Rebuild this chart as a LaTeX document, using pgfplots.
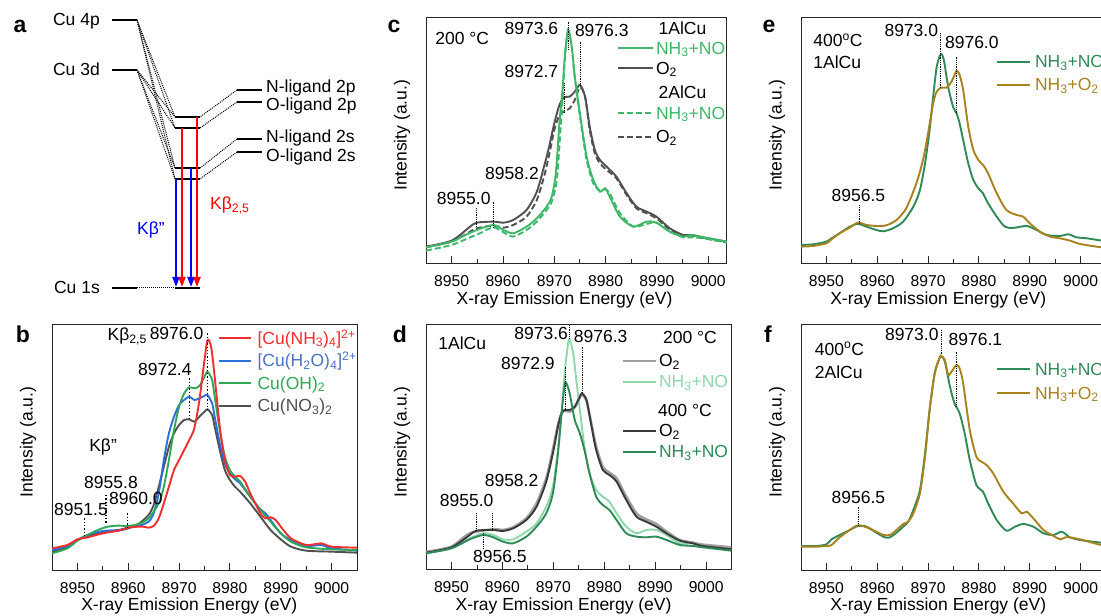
\documentclass[border=0pt]{standalone}
\usepackage{pgfplots}
\pgfplotsset{compat=1.18}
\usepackage{fontspec}
\setmainfont{Liberation Sans}
\usetikzlibrary{arrows.meta}
\newcommand\tf{\fontsize{15.7}{18}\selectfont}
\newcommand\lf{\fontsize{17.5}{20}\selectfont}
\newcommand\pf{\fontsize{23}{26}\selectfont\bfseries}
\definecolor{bred}{HTML}{F02E2E}
\definecolor{bblue}{HTML}{2A6FDB}
\definecolor{bbluet}{HTML}{4A72C0}
\definecolor{bgreen}{HTML}{2EA855}
\definecolor{dgray}{HTML}{505050}
\definecolor{cgreen}{HTML}{3CB868}
\definecolor{lgray}{HTML}{A0A0A0}
\definecolor{lgreen}{HTML}{8ED9AB}
\definecolor{kgray}{HTML}{3A3A3A}
\definecolor{kgreen}{HTML}{2F8A58}
\definecolor{gold}{HTML}{A8821C}

\tikzset{
  lab/.style={font=\lf, inner sep=0pt},
  pk/.style={densely dotted, line width=0.8pt, black},
  dsh/.style={dash pattern=on 6pt off 3pt},
  lvl/.style={line width=1.8pt},
  con/.style={densely dotted, line width=1pt},
  arr/.style={line width=2pt, -{Triangle[length=10pt,width=7pt]}},
  leg/.style={line width=1.9pt},
}
\pgfplotsset{
  xes/.style={
    scale only axis, anchor=south west,
    width=305pt, height=246pt,
    xmin=8945, xmax=9005, ymin=0, ymax=738,
    xtick={8950,8960,8970,8980,8990,9000}, minor x tick num=1,
    ytick=\empty, xtick pos=bottom, tick align=inside,
    major tick length=7pt, minor tick length=4pt,
    axis line style={line width=0.9pt, black!85},
    every tick/.style={line width=0.9pt, black!85},
    xticklabel style={font=\tf, yshift=-9pt},
    /pgf/number format/assume math mode=true,
    /pgf/number format/set thousands separator={},
    clip=false,
    every axis plot/.append style={line width=1.9pt, smooth, tension=0.45},
  },
}
\newcommand\axlabels{%
  \node[font=\lf, anchor=base] at ([yshift=-41pt]axis cs:8972,0) {X-ray Emission Energy (eV)};
  \node[font=\lf, rotate=90] at ([xshift=-24pt]rel axis cs:0,0.52) {Intensity (a.u.)};}

\begin{document}
\begin{tikzpicture}

% ---------- a: level scheme ----------
\begin{axis}[scale only axis, anchor=south west, at={(0pt,316pt)},
  width=370pt, height=300pt, xmin=0, xmax=370, ymin=0, ymax=300,
  hide axis, clip=false]
\draw[con] (137,280) -- (175,183);
\draw[con] (137,280) -- (175,172);
\draw[con] (137,280) -- (175,132);
\draw[con] (137,280) -- (175,121);
\draw[con] (137,230) -- (175,183);
\draw[con] (137,230) -- (175,172);
\draw[con] (137,230) -- (175,132);
\draw[con] (137,230) -- (175,121);
\draw[con] (237,210) -- (200,183);
\draw[con] (237,198) -- (200,172);
\draw[con] (237,161) -- (200,132);
\draw[con] (237,148) -- (200,121);
\draw[con] (137,12) -- (175,12);
\draw[lvl] (112,280) -- (137,280);
\draw[lvl] (112,230) -- (137,230);
\draw[lvl] (112,12) -- (137,12);
\draw[lvl] (175,183) -- (200,183);
\draw[lvl] (175,172) -- (200,172);
\draw[lvl] (175,132) -- (200,132);
\draw[lvl] (175,121) -- (200,121);
\draw[lvl] (175,12) -- (200,12);
\draw[lvl] (237,210) -- (262,210);
\draw[lvl] (237,198) -- (262,198);
\draw[lvl] (237,161) -- (262,161);
\draw[lvl] (237,148) -- (262,148);
\draw[arr, blue] (176,121) -- (176,13);
\draw[arr, red] (182,172) -- (182,13);
\draw[arr, blue] (191,132) -- (191,13);
\draw[arr, red] (197,183) -- (197,13);
\node[lab, anchor=base east] at (100,274) {Cu 4p};
\node[lab, anchor=base east] at (100,224) {Cu 3d};
\node[lab, anchor=base east] at (100,6) {Cu 1s};
\node[lab, anchor=base west] at (266,207) {N-ligand 2p};
\node[lab, anchor=base west] at (266,189) {O-ligand 2p};
\node[lab, anchor=base west] at (266,157) {N-ligand 2s};
\node[lab, anchor=base west] at (266,138) {O-ligand 2s};
\node[lab, anchor=base west, text=blue] at (137,65) {Kβ''};
\node[lab, anchor=base west, text=red] at (210,90) {Kβ\textsubscript{2,5}};
\end{axis}

% ---------- b ----------
\begin{axis}[xes, at={(52pt,46pt)}]
\addplot[dgray] coordinates {(8945,55)(8948,68)(8950,90)(8952,102)(8955,112)(8958,118)(8960,125)(8962,138)(8964,165)(8965,195)(8966,250)(8967,310)(8968,370)(8969,410)(8970,435)(8971,450)(8972,452)(8973,445)(8974,460)(8975,475)(8975.6,482)(8976.5,465)(8977,430)(8978,360)(8979,300)(8980,270)(8981,250)(8982,235)(8984,200)(8986,160)(8988,120)(8990,92)(8992,70)(8995,58)(9000,55)(9005,52)};
\addplot[bblue] coordinates {(8945,60)(8948,72)(8950,90)(8952,105)(8955,117)(8958,120)(8960,127)(8962,132)(8964,145)(8965,170)(8966,230)(8967,330)(8968,410)(8969,460)(8970,495)(8971,510)(8972,520)(8973,510)(8974,515)(8975,523)(8975.6,525)(8976.5,500)(8977,460)(8978,380)(8979,320)(8980,290)(8981,272)(8982,260)(8984,220)(8986,182)(8987,170)(8988,150)(8990,110)(8992,90)(8995,72)(8998,75)(9000,65)(9005,58)};
\addplot[bgreen] coordinates {(8945,50)(8948,65)(8950,88)(8952,105)(8954,120)(8956,130)(8958,133)(8960,132)(8962,138)(8964,155)(8966,200)(8967,250)(8968,330)(8969,420)(8970,490)(8971,530)(8972,548)(8973,545)(8974,552)(8975,580)(8975.6,595)(8976.5,570)(8977,520)(8978,420)(8979,340)(8980,300)(8981,280)(8982,265)(8984,220)(8986,180)(8988,145)(8990,110)(8992,85)(8995,68)(9000,62)(9005,60)};
\addplot[bred] coordinates {(8945,65)(8948,75)(8950,92)(8952,98)(8955,110)(8958,118)(8960,127)(8962,130)(8963,130)(8964,127)(8965,132)(8966,155)(8967,200)(8968,250)(8969,300)(8970,330)(8971,360)(8972,390)(8973,425)(8974,510)(8975,630)(8975.6,690)(8976.3,670)(8977,580)(8978,430)(8979,330)(8980,285)(8981,280)(8982,282)(8983,265)(8984,230)(8986,170)(8987,155)(8988,158)(8989,150)(8990,130)(8992,95)(8995,75)(8998,80)(9000,70)(9005,67)};
\draw[dotted, line width=1.3pt] (8975.6,710) -- (8975.6,480);
\draw[dotted, line width=1.3pt] (8972.0,575) -- (8972.0,450);
\draw[dotted, line width=1.3pt] (8951.4,155) -- (8951.4,98);
\draw[dotted, line width=1.3pt] (8955.6,225) -- (8955.6,138);
\draw[dotted, line width=1.3pt] (8959.8,170) -- (8959.8,130);
\node[lab, anchor=base west] at (8955.9,688) {Kβ\textsubscript{2,5}};
\node[lab, anchor=base east] at (8974.8,692) {8976.0};
\node[lab, anchor=base east] at (8972.5,582) {8972.4};
\node[lab, anchor=base west] at (8952.3,355) {Kβ''};
\node[lab, anchor=base west] at (8951.3,245) {8955.8};
\node[lab, anchor=base west] at (8945.4,162) {8951.5};
\node[lab, anchor=base west] at (8956.2,195) {8960.0};
\draw[bred, leg] (8977.9,695) -- (8984.1,695);
\draw[bblue, leg] (8977.9,628) -- (8984.1,628);
\draw[bgreen, leg] (8977.9,560) -- (8984.1,560);
\draw[dgray, leg] (8977.9,492) -- (8984.1,492);
\node[lab, anchor=base west, text=bred] at (8985.4,677) {[Cu(NH\textsubscript{3})\textsubscript{4}]\textsuperscript{2+}};
\node[lab, anchor=base west, text=bbluet] at (8985.4,610) {[Cu(H\textsubscript{2}O)\textsubscript{4}]\textsuperscript{2+}};
\node[lab, anchor=base west, text=bgreen] at (8985.4,542) {Cu(OH)\textsubscript{2}};
\node[lab, anchor=base west, text=dgray] at (8985.4,474) {Cu(NO\textsubscript{3})\textsubscript{2}};
\axlabels
\end{axis}

% ---------- c ----------
\begin{axis}[xes, at={(426pt,352.7pt)}, width=300.7pt, xmax=9003.6]
\addplot[dgray] coordinates {(8945,50)(8950,68)(8953.6,110)(8954.9,122)(8958.1,125)(8960.1,122)(8962.0,130)(8964.6,160)(8966.6,215)(8968.0,290)(8969.0,350)(8970.0,420)(8971.0,475)(8971.9,498)(8973.0,500)(8974.0,515)(8975.0,535)(8976.0,500)(8976.9,410)(8977.9,340)(8978.9,310)(8980.2,290)(8982.1,260)(8984.1,210)(8986.0,170)(8988.0,155)(8989.9,140)(8992.5,105)(8995.1,85)(8996.8,85)(8999.0,78)(9003.6,65)};
\addplot[dgray, dsh] coordinates {(8945,48)(8950,65)(8953.6,95)(8954.9,105)(8958.1,113)(8960.1,107)(8962.0,115)(8964.6,140)(8966.6,190)(8968.0,260)(8969.0,325)(8970.0,400)(8971.0,445)(8971.9,455)(8973.0,465)(8974.0,490)(8975.0,528)(8976.0,500)(8976.9,400)(8977.9,330)(8978.9,300)(8980.2,280)(8982.1,255)(8984.1,205)(8986.0,165)(8988.0,150)(8989.9,135)(8992.5,102)(8995.1,83)(8996.8,83)(8999.0,76)(9003.6,63)};
\addplot[cgreen, dsh] coordinates {(8945,38)(8950,55)(8953.6,78)(8955.5,90)(8958.1,108)(8960.1,93)(8962.0,80)(8964.6,100)(8966.6,125)(8968.5,160)(8969.5,185)(8970.5,250)(8971.2,400)(8971.6,490)(8972.1,620)(8972.7,695)(8973.4,650)(8974.0,555)(8975.0,440)(8976.3,310)(8977.6,240)(8978.9,218)(8979.9,222)(8980.8,210)(8982.8,150)(8985.4,110)(8988.0,118)(8989.9,122)(8992.5,95)(8995.1,78)(8996.8,78)(8999.0,75)(9003.6,62)};
\addplot[cgreen] coordinates {(8945,48)(8950,65)(8952.3,82)(8954.9,100)(8958.1,115)(8960.1,100)(8962.0,90)(8964.6,110)(8966.6,135)(8968.5,170)(8969.5,200)(8970.3,270)(8971.0,420)(8971.6,520)(8972.1,630)(8972.7,702)(8973.4,650)(8974.0,560)(8975.0,450)(8976.3,320)(8977.6,250)(8978.9,215)(8979.9,225)(8980.8,200)(8982.8,140)(8985.4,110)(8988.0,125)(8989.9,122)(8992.5,95)(8995.1,80)(8996.8,85)(8999.0,78)(9003.6,65)};
\draw[pk] (8972.7,725) -- (8972.7,640);
\draw[pk] (8975.0,665) -- (8975.0,535);
\draw[pk] (8971.9,540) -- (8971.9,450);
\draw[pk] (8954.9,165) -- (8954.9,110);
\draw[pk] (8958.1,185) -- (8958.1,105);
\node[lab, anchor=base west] at (8946.8,655) {200 °C};
\node[lab, anchor=base east] at (8970.8,685) {8973.6};
\node[lab, anchor=base west] at (8974.0,680) {8976.3};
\node[lab, anchor=base east] at (8970.8,558) {8972.7};
\node[lab, anchor=base west] at (8956.5,250) {8958.2};
\node[lab, anchor=base west] at (8947.1,175) {8955.0};
\node[lab, anchor=base west] at (8990.3,685) {1AlCu};
\draw[cgreen, leg] (8982.5,645) -- (8989.3,645);
\node[lab, anchor=base west, text=cgreen] at (8989.8,627) {NH\textsubscript{3}+NO};
\draw[dgray, leg] (8982.5,585) -- (8989.3,585);
\node[lab, anchor=base west] at (8989.8,567) {O\textsubscript{2}};
\node[lab, anchor=base west] at (8990.3,495) {2AlCu};
\draw[cgreen, dsh, leg] (8982.5,450) -- (8989.3,450);
\node[lab, anchor=base west, text=cgreen] at (8989.8,432) {NH\textsubscript{3}+NO};
\draw[dgray, dsh, leg] (8982.5,380) -- (8989.3,380);
\node[lab, anchor=base west] at (8989.8,362) {O\textsubscript{2}};
\axlabels
\end{axis}

% ---------- d ----------
\begin{axis}[xes, at={(426pt,46.7pt)}, width=305.7pt, height=245.3pt, ymax=736]
\addplot[lgray, line width=2.6pt] coordinates {(8945.0,52)(8950.0,68)(8953.6,108)(8958.2,120)(8960.1,118)(8962.1,126)(8964.7,153)(8966.7,198)(8968.6,273)(8969.9,358)(8970.9,433)(8971.6,468)(8972.2,476)(8973.2,473)(8974.2,486)(8975.2,516)(8975.6,524)(8976.5,506)(8977.5,433)(8978.4,368)(8979.7,308)(8981.0,290)(8982.4,273)(8984.3,218)(8986.3,168)(8988.2,150)(8990.2,136)(8992.2,113)(8994.8,88)(8997.4,80)(8999.3,74)(9004.9,66)};
\addplot[lgreen] coordinates {(8945.0,48)(8950.0,63)(8953.6,93)(8956.2,108)(8958.2,103)(8960.1,90)(8962.1,90)(8964.7,113)(8966.7,138)(8968.6,188)(8969.9,248)(8970.9,358)(8971.6,468)(8972.2,588)(8972.9,678)(8973.2,690)(8973.9,648)(8974.5,568)(8975.2,478)(8976.1,368)(8977.1,288)(8978.4,238)(8979.7,218)(8981.0,203)(8982.4,168)(8984.3,128)(8986.3,108)(8988.2,118)(8990.2,118)(8992.2,103)(8994.8,78)(8997.4,78)(8999.3,68)(9004.9,58)};
\addplot[kgray] coordinates {(8945.0,50)(8950.0,66)(8953.6,103)(8954.9,116)(8958.2,118)(8960.1,115)(8962.1,123)(8964.7,148)(8966.7,188)(8968.6,263)(8969.9,348)(8970.9,428)(8971.6,468)(8972.2,478)(8973.2,478)(8974.2,488)(8975.2,518)(8975.6,528)(8976.5,508)(8977.5,428)(8978.4,358)(8979.7,298)(8981.0,283)(8982.4,263)(8984.3,208)(8986.3,158)(8988.2,143)(8990.2,128)(8992.2,108)(8994.8,86)(8997.4,78)(8999.3,70)(9004.9,60)};
\addplot[kgreen] coordinates {(8945.0,48)(8950.0,63)(8953.6,90)(8956.2,103)(8958.2,96)(8960.1,83)(8962.1,78)(8964.7,98)(8966.7,128)(8968.6,168)(8969.9,228)(8970.9,348)(8971.6,468)(8972.2,553)(8972.5,560)(8973.2,528)(8974.2,448)(8975.2,408)(8976.1,358)(8977.1,288)(8978.4,218)(8979.7,193)(8981.0,178)(8982.4,148)(8984.3,108)(8986.3,98)(8988.2,96)(8990.2,98)(8992.2,88)(8994.8,73)(8997.4,70)(8999.3,66)(9004.9,56)};
\draw[pk] (8973.2,733) -- (8973.2,693);
\draw[pk] (8975.6,668) -- (8975.6,528);
\draw[pk] (8972.35,608) -- (8972.35,478);
\draw[pk] (8954.9,168) -- (8954.9,118);
\draw[pk] (8958.0,168) -- (8958.0,118);
\draw[pk] (8956.3,108) -- (8956.3,63);
\node[lab, anchor=base west] at (8947.4,658) {1AlCu};
\node[lab, anchor=base east] at (8972.9,690) {8973.6};
\node[lab, anchor=base west] at (8974.0,680) {8976.3};
\node[lab, anchor=base east] at (8970.3,598) {8972.9};
\node[lab, anchor=base west] at (8956.5,248) {8958.2};
\node[lab, anchor=base west] at (8947.7,188) {8955.0};
\node[lab, anchor=base west] at (8954.2,20) {8956.5};
\node[lab, anchor=base west] at (8991.5,678) {200 °C};
\draw[lgray, line width=2.6pt] (8983.7,625) -- (8990.2,625);
\node[lab, anchor=base west] at (8990.7,607) {O\textsubscript{2}};
\draw[lgreen, leg] (8983.7,563) -- (8990.2,563);
\node[lab, anchor=base west, text=lgreen] at (8990.7,545) {NH\textsubscript{3}+NO};
\node[lab, anchor=base west] at (8990.5,458) {400 °C};
\draw[kgray, leg] (8983.7,416) -- (8990.2,416);
\node[lab, anchor=base west] at (8990.7,398) {O\textsubscript{2}};
\draw[kgreen, leg] (8983.7,353) -- (8990.2,353);
\node[lab, anchor=base west, text=kgreen] at (8990.7,335) {NH\textsubscript{3}+NO};
\axlabels
\end{axis}

% ---------- e ----------
\begin{axis}[xes, at={(801pt,352.7pt)}]
\addplot[kgreen] coordinates {(8945,55)(8947.4,57)(8950,65)(8951,75)(8952.6,90)(8954.6,110)(8956.2,118)(8957.9,110)(8959.8,100)(8961.2,96)(8963.1,105)(8965.1,125)(8967.1,170)(8968.4,220)(8969.4,300)(8970.3,400)(8971.0,500)(8971.7,590)(8972.5,628)(8973.1,610)(8973.95,530)(8974.9,470)(8975.6,450)(8976.2,420)(8976.9,370)(8977.9,300)(8978.9,250)(8979.9,225)(8980.8,210)(8981.8,180)(8983.5,140)(8985.1,110)(8986.7,106)(8989.4,112)(8991.3,100)(8993.3,85)(8995.9,82)(8997.6,87)(8999.2,78)(9001.2,75)(9005,66)};
\addplot[gold] coordinates {(8945,50)(8947.4,52)(8950,60)(8951,72)(8952.6,90)(8954.6,107)(8956.2,122)(8957.9,115)(8959.8,112)(8961.8,114)(8963.8,130)(8965.7,165)(8967.7,240)(8969.0,310)(8970.0,390)(8971.0,480)(8971.7,515)(8972.6,527)(8973.6,527)(8974.6,545)(8975.6,577)(8976.2,565)(8976.9,520)(8977.9,410)(8978.9,340)(8979.9,310)(8980.8,295)(8981.8,270)(8983.5,210)(8985.4,160)(8987.4,145)(8988.7,140)(8990.0,120)(8992.0,95)(8994.0,80)(8995.9,75)(8997.9,68)(8999.9,58)(9004.0,48)(9005,47)};
\draw[pk] (8972.5,690) -- (8972.5,525);
\draw[pk] (8975.6,620) -- (8975.6,450);
\draw[pk] (8956.4,175) -- (8956.4,120);
\node[lab, anchor=base west] at (8947.4,650) {400\textsuperscript{o}C};
\node[lab, anchor=base west] at (8947.4,585) {1AlCu};
\node[lab, anchor=base east] at (8972.0,680) {8973.0};
\node[lab, anchor=base west] at (8973.3,645) {8976.0};
\node[lab, anchor=base west] at (8951.0,185) {8956.5};
\draw[kgreen, leg] (8983.5,605) -- (8990.0,605);
\node[lab, anchor=base west, text=kgreen] at (8991.0,587) {NH\textsubscript{3}+NO};
\draw[gold, leg] (8983.5,535) -- (8990.0,535);
\node[lab, anchor=base west, text=gold] at (8991.0,517) {NH\textsubscript{3}+O\textsubscript{2}};
\axlabels
\end{axis}

% ---------- f ----------
\begin{axis}[xes, at={(801pt,46pt)}]
\addplot[kgreen] coordinates {(8945,72)(8948,72)(8950,77)(8951,92)(8952.6,105)(8954.6,120)(8956.2,132)(8957.9,130)(8959.8,112)(8961.5,98)(8962.5,98)(8963.8,112)(8965.1,130)(8966.1,145)(8967.1,180)(8968.4,240)(8969.4,350)(8970.3,480)(8971.3,590)(8972.3,638)(8972.6,642)(8973.3,625)(8974.3,550)(8975.2,500)(8976.2,470)(8977.2,410)(8978.2,330)(8979.5,255)(8980.8,235)(8981.8,200)(8983.5,150)(8985.4,118)(8987.1,130)(8988.7,138)(8990.7,130)(8992.7,110)(8994.7,105)(8996.3,115)(8997.9,98)(8999.9,90)(9004,82)(9005,80)};
\addplot[gold] coordinates {(8945,70)(8948,70)(8950,72)(8951,75)(8952.6,98)(8954.6,120)(8956.2,134)(8957.9,128)(8959.8,115)(8961.2,105)(8962.5,105)(8963.8,120)(8965.1,138)(8966.1,145)(8967.1,170)(8968.4,230)(8969.4,340)(8970.3,480)(8971.3,590)(8972.3,638)(8972.6,642)(8973.3,630)(8973.95,585)(8974.6,595)(8975.6,615)(8976.2,605)(8976.9,560)(8978.2,420)(8979.5,340)(8980.5,325)(8981.5,315)(8982.8,290)(8984.8,235)(8986.7,200)(8988.4,170)(8989.4,175)(8990.7,155)(8992.7,120)(8994.7,102)(8996.0,92)(8997.0,98)(8997.9,98)(8999.9,92)(9004,75)(9005,74)};
\draw[pk] (8972.6,720) -- (8972.6,645);
\draw[pk] (8975.6,655) -- (8975.6,490);
\draw[pk] (8956.2,190) -- (8956.2,135);
\node[lab, anchor=base west] at (8947.7,645) {400\textsuperscript{o}C};
\node[lab, anchor=base west] at (8947.7,575) {2AlCu};
\node[lab, anchor=base east] at (8972.1,688) {8973.0};
\node[lab, anchor=base west] at (8974.0,672) {8976.1};
\node[lab, anchor=base west] at (8951.0,200) {8956.5};
\draw[kgreen, leg] (8983.5,602) -- (8990.0,602);
\node[lab, anchor=base west, text=kgreen] at (8991.0,584) {NH\textsubscript{3}+NO};
\draw[gold, leg] (8983.5,530) -- (8990.0,530);
\node[lab, anchor=base west, text=gold] at (8991.0,512) {NH\textsubscript{3}+O\textsubscript{2}};
\axlabels
\end{axis}

% panel letters
\node[font=\pf, anchor=base] at (20pt,583pt) {a};
\node[font=\pf, anchor=base] at (23pt,273pt) {b};
\node[font=\pf, anchor=base] at (394pt,583pt) {c};
\node[font=\pf, anchor=base] at (400pt,273pt) {d};
\node[font=\pf, anchor=base] at (769pt,583pt) {e};
\node[font=\pf, anchor=base] at (768pt,273pt) {f};

\pgfresetboundingbox
\useasboundingbox (0pt,0pt) rectangle (1101pt,616pt);
\end{tikzpicture}
\end{document}
